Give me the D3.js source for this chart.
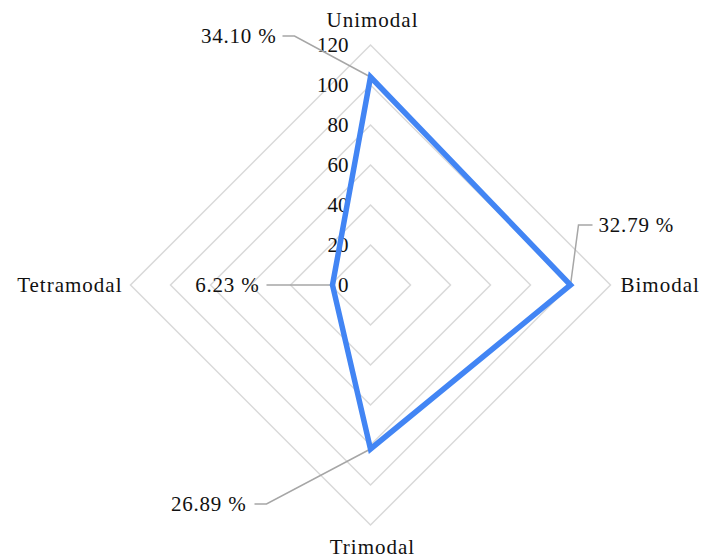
<!DOCTYPE html>
<html>
<head>
<meta charset="utf-8">
<script src="https://cdn.jsdelivr.net/npm/d3@7"></script>
<style>
  body { margin: 0; background: #fff; }
</style>
</head>
<body>
<div id="chart"></div>
<script>
// data
const categories = ["Unimodal", "Bimodal", "Trimodal", "Tetramodal"];
const counts = [104, 100, 82, 19];
const percentLabels = ["34.10 %", "32.79 %", "26.89 %", "6.23 %"];
const ticks = [0, 20, 40, 60, 80, 100, 120];

const width = 702, height = 558;
const cx = 370.5, cy = 285, radius = 240;
const font = "'Liberation Serif', 'Times New Roman', serif";

let svg = d3.select("#chart").append("svg")
    .attr("width", width).attr("height", height)
    .attr("font-family", font);

let r = d3.scaleLinear().domain([0, 120]).range([0, radius]);
// one spoke per category, clockwise from the top
let angle = d3.scalePoint().domain(categories).range([0, 2 * Math.PI * 3 / 4]);

let pos = (cat, v) => {
    let a = angle(cat);
    return [cx + r(v) * Math.sin(a), cy - r(v) * Math.cos(a)];
};

let g = svg.append("g");

// grid rings (diamonds)
g.append("g").selectAll("polygon")
    .data(ticks.filter(t => t > 0))
    .join("polygon")
    .attr("points", t => categories.map(c => pos(c, t).join(",")).join(" "))
    .attr("fill", "none")
    .attr("stroke", "#d9d9d9")
    .attr("stroke-width", 1.5);

// tick labels on the vertical spoke
g.append("g").selectAll("text")
    .data(ticks)
    .join("text")
    .attr("x", cx - 22)
    .attr("y", t => cy - r(t))
    .attr("dy", "0.35em")
    .attr("text-anchor", "end")
    .attr("fill", "#111")
    .attr("font-size", 21)
    .text(t => t);

// category labels
let catLayout = [
    { dx: 2, dy: -265, anchor: "middle" },
    { dx: 250, dy: 0, anchor: "start" },
    { dx: 2, dy: 262, anchor: "middle" },
    { dx: -248, dy: 0, anchor: "end" }
];
g.append("g").selectAll("text")
    .data(categories)
    .join("text")
    .attr("x", (d, i) => cx + catLayout[i].dx)
    .attr("y", (d, i) => cy + catLayout[i].dy)
    .attr("dy", "0.35em")
    .attr("text-anchor", (d, i) => catLayout[i].anchor)
    .attr("fill", "#111")
    .attr("font-size", 21)
    .style("letter-spacing", "1px")
    .text(d => d);

// leader lines for the percentage labels: elbow and end offsets from the point
let leader = [
    { ex: -76, ey: -41, tx: -88, ty: -41, anchor: "end", gap: -6 },
    { ex: 8, ey: -60, tx: 22, ty: -60, anchor: "start", gap: 6 },
    { ex: -104, ey: 55, tx: -116, ty: 55, anchor: "end", gap: -8 },
    { ex: -60, ey: 0, tx: -66, ty: 0, anchor: "end", gap: -7 }
];

let lg = g.append("g");
categories.forEach((c, i) => {
    let p = pos(c, counts[i]);
    let L = leader[i];
    lg.append("path")
        .attr("d", d3.line()([p, [p[0] + L.ex, p[1] + L.ey], [p[0] + L.tx, p[1] + L.ty]]))
        .attr("fill", "none")
        .attr("stroke", "#a6a6a6")
        .attr("stroke-width", 1.5);
    lg.append("text")
        .attr("x", p[0] + L.tx + L.gap)
        .attr("y", p[1] + L.ty)
        .attr("dy", "0.35em")
        .attr("text-anchor", L.anchor)
        .attr("fill", "#111")
        .attr("font-size", 21)
        .style("letter-spacing", "0.8px")
        .text(percentLabels[i]);
});

// data polygon
let line = d3.line().curve(d3.curveLinearClosed);
g.append("path")
    .datum(categories.map((c, i) => pos(c, counts[i])))
    .attr("d", line)
    .attr("fill", "none")
    .attr("stroke", "#4285f4")
    .attr("stroke-width", 5.5)
    .attr("stroke-linejoin", "miter");
</script>
</body>
</html>
